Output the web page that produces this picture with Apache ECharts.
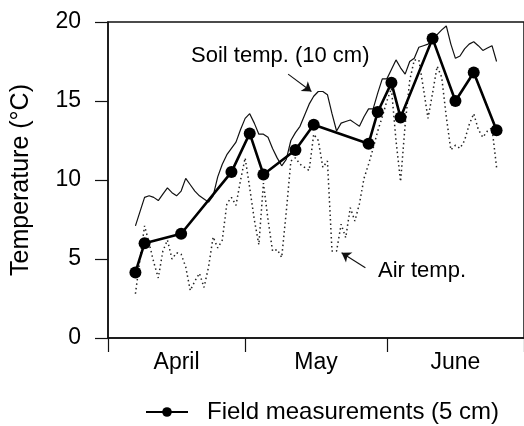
<!DOCTYPE html>
<html>
<head>
<meta charset="utf-8">
<script src="https://cdn.jsdelivr.net/npm/echarts@6/dist/echarts.min.js"></script>
<style>
  html, body { margin: 0; padding: 0; background: #fff; }
  #chart { width: 524px; height: 426px; }
</style>
</head>
<body>
<div id="chart"></div>
<script>
// days counted from 1 April
var firstDay = 6;
// soil temperature at 10 cm, one value per day
var soilTemp = [7.1, 8.0, 8.9, 9.0, 8.9, 8.7, 9.1, 9.5, 9.2, 9.0,
  9.3, 10.1, 9.7, 9.3, 9.0, 8.8, 8.6, 9.0, 10.2, 11.0,
  11.6, 12.0, 12.4, 13.2, 13.9, 14.2, 13.6, 12.9, 12.9, 12.7,
  12.0, 11.4, 10.9, 11.3, 12.5, 13.0, 13.4, 14.1, 14.8, 15.3,
  15.6, 15.6, 15.4, 14.2, 13.1, 13.6, 13.7, 13.8, 13.6, 13.4,
  14.0, 14.5, 14.5, 15.5, 16.4, 16.4, 17.0, 17.6, 17.1, 16.7,
  17.5, 17.7, 18.4, 18.5, 18.6, 18.9, 19.2, 19.5, 19.75, 18.6,
  17.7, 17.85, 18.3, 18.6, 18.75, 18.5, 18.2, 18.35, 18.5, 17.5];
// air temperature, one value per day
var airTemp = [2.8, 5.0, 7.1, 6.0, 4.8, 3.8, 5.5, 6.2, 5.0, 5.4,
  5.3, 4.5, 3.0, 3.6, 4.1, 3.2, 4.5, 6.4, 5.7, 6.2,
  8.5, 8.9, 8.4, 10.0, 11.4, 9.5, 7.5, 5.9, 9.8, 7.5,
  5.5, 5.6, 5.1, 8.0, 11.2, 11.4, 11.0, 10.8, 10.6, 12.9,
  12.5, 10.8, 11.2, 5.5, 5.5, 7.2, 6.35, 8.25, 7.4, 8.5,
  10.1, 11.0, 12.0, 13.1, 14.0, 15.0, 15.8, 12.5, 9.9, 13.5,
  16.3, 17.6, 17.6, 15.8, 13.9, 15.5, 17.2, 16.5, 14.0, 11.9,
  12.2, 12.0, 12.5, 13.5, 14.2, 13.2, 12.7, 13.1, 13.3, 10.8];
// field measurements at 5 cm
var fieldDays = [6, 8, 16, 27, 31, 34, 41, 45, 57, 59, 62, 64, 71, 76, 80, 85];
var fieldTemp = [4.15, 6.0, 6.6, 10.5, 12.95, 10.35, 11.9, 13.5, 12.3, 14.3, 16.15, 13.95, 18.95, 15.0, 16.8, 13.15];
// month boundaries and label positions (day numbers)
var monthStarts = [0, 30, 61, 91];
var monthMids = [15, 45.5, 76];
var monthNames = ['April', 'May', 'June'];

var font = '"Liberation Sans", Arial, Helvetica, sans-serif';

function daily(values) {
	return values.map(function (v, i) { return [firstDay + i, v]; });
}

var chart = echarts.init(document.getElementById('chart'));

chart.setOption({
	animation: false,
	backgroundColor: '#fff',
	textStyle: { fontFamily: font, color: '#000' },
	grid: {
		left: 108, top: 22, right: -9, bottom: 88,
		show: true, borderColor: '#111', borderWidth: 1.5
	},
	legend: {
		data: ['Field measurements (5 cm)'],
		left: 140, top: 395,
		itemWidth: 42, itemHeight: 12,
		textStyle: { fontFamily: font, fontSize: 24, color: '#000', padding: [0, 0, 0, 14] }
	},
	xAxis: {
		type: 'value', min: 0, max: 91,
		splitLine: { show: false },
		axisLine: { lineStyle: { color: '#111', width: 1.5 } },
		axisTick: { customValues: monthStarts, length: 14, lineStyle: { color: '#111', width: 1.2 } },
		axisLabel: {
			customValues: monthMids, margin: 13,
			fontSize: 23, color: '#000', fontFamily: font,
			formatter: function (v) { return monthNames[monthMids.indexOf(v)]; }
		}
	},
	yAxis: {
		type: 'value', min: 0, max: 20, interval: 5,
		name: 'Temperature (°C)', nameLocation: 'middle', nameGap: 74,
		nameTextStyle: { fontSize: 25, color: '#000', fontFamily: font },
		splitLine: { show: false },
		axisLine: { show: true, lineStyle: { color: '#111', width: 1.5 } },
		axisTick: { length: 13, lineStyle: { color: '#111', width: 1.2 } },
		axisLabel: { margin: 27, fontSize: 23, color: '#000', fontFamily: font }
	},
	series: [
		{
			name: 'Air temp.', type: 'line', data: daily(airTemp),
			symbol: 'none', silent: true,
			lineStyle: { color: '#222', width: 1.5, type: [1.5, 3] },
			markLine: {
				silent: true, symbol: ['none', 'arrow'], symbolSize: 9,
				label: { show: false },
				lineStyle: { color: '#111', width: 1.1, type: 'solid' },
				data: [[{ coord: [56.3, 4.45] }, { coord: [51.1, 5.4] }]]
			}
		},
		{
			name: 'Soil temp. (10 cm)', type: 'line', data: daily(soilTemp),
			symbol: 'none', silent: true,
			lineStyle: { color: '#111', width: 1.2 },
			markLine: {
				silent: true, symbol: ['none', 'arrow'], symbolSize: 9,
				label: { show: false },
				lineStyle: { color: '#111', width: 1.1, type: 'solid' },
				data: [[{ coord: [39.4, 16.7] }, { coord: [44.5, 15.6] }]]
			}
		},
		{
			name: 'Field measurements (5 cm)', type: 'line',
			data: fieldDays.map(function (d, i) { return [d, fieldTemp[i]]; }),
			symbol: 'circle', symbolSize: 12,
			itemStyle: { color: '#000' },
			lineStyle: { color: '#000', width: 2.6 }
		}
	],
	graphic: [
		{ type: 'text', left: 191, top: 45, style: { text: 'Soil temp. (10 cm)', font: '22px ' + font, fill: '#000' } },
		{ type: 'text', left: 378, top: 260, style: { text: 'Air temp.', font: '22px ' + font, fill: '#000' } }
	]
});
</script>
</body>
</html>
